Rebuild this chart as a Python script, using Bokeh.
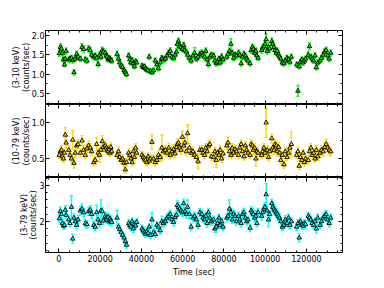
import numpy as np
from bokeh.plotting import figure
from bokeh.layouts import column
from bokeh.models import (ColumnDataSource, Whisker, TeeHead, Range1d, LinearAxis,
                          SingleIntervalTicker, FixedTicker, BasicTickFormatter,
                          NumeralTickFormatter)
from bokeh.embed import file_html
from bokeh.resources import INLINE

# ---------------- data ----------------
time_sec = [
    200, 700, 1200, 1700, 2200, 2700, 3100, 3500,
    4800, 5400, 6100, 6700, 7300, 7900, 8600, 9300,
    10400, 11200, 12000, 12800, 13600, 14400, 15200, 15900,
    16900, 17600, 18300, 19000, 19700, 20400, 21000, 21500,
    22500, 23000, 23400, 23900, 24400, 24800, 25200, 25600,
    28200, 28900, 29500, 30200, 30900, 31600, 32200, 32800,
    33800, 34400, 34900, 35500, 36100, 36600, 37200, 37700,
    40300, 40900, 41500, 42000, 42600, 43200, 43800, 44400,
    45100, 45900, 46700, 47500, 48300, 49100, 49900, 50600,
    51600, 52400, 53200, 54000, 54800, 55600, 56300, 57000,
    57400, 58000, 58600, 59200, 59900, 60500, 61100, 61800,
    62400, 63300, 64100, 65000, 65800, 66700, 67500, 68300,
    69300, 69900, 70600, 71200, 71900, 72500, 73200, 73900,
    75000, 75600, 76300, 76900, 77600, 78200, 78900, 79600,
    81400, 82000, 82700, 83400, 84000, 84700, 85400, 86100,
    87100, 87700, 88400, 89000, 89700, 90400, 91000, 91700,
    92700, 93200, 93800, 94300, 94900, 95500, 96000, 96600,
    98300, 98800, 99400, 99900, 100500, 101000, 101600, 102200,
    103200, 103700, 104300, 104800, 105400, 105900, 106500, 107000,
    107600, 108300, 109100, 109800, 110600, 111300, 112000, 112700,
    115300, 115900, 116500, 117100, 117800, 118400, 119000, 119600,
    120900, 121500, 122200, 122800, 123500, 124200, 124800, 125500,
    126600, 127300, 128100, 128800, 129600, 130300, 131100, 131800,
]

rate_3_10 = [
    1.54, 1.70, 1.66, 1.55, 1.38, 1.25, 1.40, 1.60,
    1.38, 1.40, 1.42, 1.36, 1.05, 1.40, 1.52, 1.45,
    1.40, 1.70, 1.65, 1.38, 1.35, 1.66, 1.62, 1.50,
    1.45, 1.48, 1.42, 1.26, 1.50, 1.45, 1.62, 1.58,
    1.55, 1.48, 1.45, 1.38, 1.42, 1.40, 1.36, 1.35,
    1.52, 1.40, 1.30, 1.22, 1.18, 1.10, 1.05, 1.00,
    1.48, 1.38, 1.30, 1.36, 1.28, 1.20, 1.33, 1.30,
    1.22, 1.18, 1.20, 1.15, 1.12, 1.10, 1.45, 1.08,
    1.05, 1.10, 1.35, 1.25, 1.15, 1.30, 1.42, 1.38,
    1.40, 1.48, 1.55, 1.60, 1.45, 1.42, 1.50, 1.58,
    1.78, 1.85, 1.72, 1.70, 1.65, 1.75, 1.62, 1.58,
    1.50, 1.42, 1.35, 1.48, 1.55, 1.40, 1.45, 1.52,
    1.55, 1.50, 1.45, 1.60, 1.38, 1.26, 1.45, 1.50,
    1.48, 1.35, 1.28, 1.32, 1.40, 1.30, 1.45, 1.38,
    1.45, 1.52, 1.60, 1.78, 1.55, 1.42, 1.50, 1.48,
    1.55, 1.50, 1.28, 1.45, 1.52, 1.48, 1.40, 1.35,
    1.28, 1.62, 1.70, 1.65, 1.55, 1.60, 1.48, 1.42,
    1.62, 1.68, 1.72, 1.78, 1.90, 1.60, 1.70, 1.66,
    1.85, 1.78, 1.70, 1.62, 1.55, 1.60, 1.50, 1.45,
    1.40, 1.30, 1.28, 1.35, 1.42, 1.38, 1.32, 1.45,
    1.25, 0.57, 1.20, 1.32, 1.38, 1.30, 1.35, 1.40,
    1.50, 1.72, 1.45, 1.40, 1.35, 1.48, 1.18, 1.30,
    1.35, 1.42, 1.50, 1.58, 1.62, 1.48, 1.40, 1.55,
]
err_3_10 = [
    0.08, 0.09, 0.08, 0.07, 0.07, 0.06, 0.07, 0.08,
    0.07, 0.07, 0.07, 0.07, 0.07, 0.07, 0.08, 0.07,
    0.07, 0.09, 0.08, 0.07, 0.07, 0.08, 0.08, 0.07,
    0.08, 0.07, 0.07, 0.07, 0.08, 0.07, 0.08, 0.08,
    0.07, 0.07, 0.07, 0.06, 0.07, 0.07, 0.06, 0.07,
    0.08, 0.07, 0.07, 0.06, 0.06, 0.06, 0.06, 0.06,
    0.07, 0.07, 0.06, 0.07, 0.06, 0.06, 0.07, 0.06,
    0.06, 0.06, 0.06, 0.06, 0.06, 0.06, 0.07, 0.06,
    0.06, 0.06, 0.07, 0.10, 0.06, 0.09, 0.07, 0.07,
    0.07, 0.07, 0.08, 0.08, 0.07, 0.07, 0.08, 0.08,
    0.08, 0.08, 0.08, 0.07, 0.07, 0.08, 0.07, 0.07,
    0.08, 0.07, 0.07, 0.07, 0.14, 0.07, 0.07, 0.08,
    0.08, 0.07, 0.07, 0.08, 0.07, 0.07, 0.07, 0.07,
    0.07, 0.07, 0.07, 0.07, 0.07, 0.07, 0.08, 0.07,
    0.07, 0.08, 0.08, 0.14, 0.07, 0.07, 0.08, 0.07,
    0.08, 0.07, 0.07, 0.07, 0.08, 0.07, 0.07, 0.07,
    0.07, 0.08, 0.08, 0.08, 0.07, 0.08, 0.07, 0.07,
    0.08, 0.08, 0.08, 0.09, 0.15, 0.08, 0.12, 0.08,
    0.09, 0.08, 0.08, 0.08, 0.07, 0.08, 0.07, 0.07,
    0.07, 0.07, 0.07, 0.07, 0.07, 0.07, 0.07, 0.07,
    0.07, 0.14, 0.06, 0.07, 0.07, 0.07, 0.07, 0.07,
    0.08, 0.09, 0.07, 0.07, 0.07, 0.08, 0.07, 0.07,
    0.07, 0.07, 0.08, 0.08, 0.08, 0.07, 0.07, 0.08,
]

rate_10_79 = [
    0.55, 0.60, 0.62, 0.53, 0.50, 0.58, 0.83, 0.72,
    0.62, 0.55, 0.50, 0.76, 0.44, 0.58, 0.68, 0.70,
    0.58, 0.75, 0.62, 0.55, 0.64, 0.68, 0.65, 0.60,
    0.45, 0.48, 0.70, 0.58, 0.55, 0.62, 0.74, 0.66,
    0.68, 0.65, 0.62, 0.60, 0.63, 0.58, 0.66, 0.60,
    0.55, 0.60, 0.52, 0.48, 0.50, 0.44, 0.35, 0.45,
    0.58, 0.55, 0.50, 0.45, 0.60, 0.52, 0.65, 0.58,
    0.55, 0.52, 0.50, 0.48, 0.45, 0.53, 0.47, 0.50,
    0.73, 0.50, 0.45, 0.48, 0.55, 0.52, 0.65, 0.60,
    0.62, 0.58, 0.65, 0.55, 0.60, 0.63, 0.57, 0.66,
    0.70, 0.72, 0.65, 0.62, 0.80, 0.68, 0.72, 0.60,
    0.85, 0.65, 0.58, 0.60, 0.55, 0.52, 0.46, 0.62,
    0.62, 0.58, 0.55, 0.65, 0.60, 0.68, 0.70, 0.53,
    0.52, 0.60, 0.48, 0.58, 0.55, 0.62, 0.50, 0.57,
    0.68, 0.72, 0.60, 0.55, 0.65, 0.58, 0.63, 0.60,
    0.55, 0.65, 0.70, 0.60, 0.53, 0.68, 0.62, 0.58,
    0.55, 0.70, 0.68, 0.62, 0.65, 0.50, 0.60, 0.58,
    0.55, 0.60, 0.65, 0.58, 1.00, 0.62, 0.52, 0.60,
    0.78, 0.65, 0.62, 0.70, 0.68, 0.60, 0.66, 0.58,
    0.48, 0.55, 0.42, 0.60, 0.52, 0.58, 0.65, 0.70,
    0.55, 0.60, 0.40, 0.52, 0.48, 0.58, 0.45, 0.50,
    0.48, 0.60, 0.65, 0.55, 0.58, 0.50, 0.62, 0.53,
    0.58, 0.62, 0.60, 0.66, 0.70, 0.65, 0.62, 0.60,
]
err_10_79 = [
    0.05, 0.06, 0.06, 0.05, 0.05, 0.06, 0.10, 0.08,
    0.06, 0.05, 0.05, 0.13, 0.07, 0.06, 0.06, 0.06,
    0.06, 0.07, 0.06, 0.05, 0.06, 0.06, 0.06, 0.06,
    0.05, 0.05, 0.09, 0.06, 0.10, 0.06, 0.08, 0.06,
    0.06, 0.06, 0.06, 0.05, 0.06, 0.05, 0.06, 0.05,
    0.05, 0.06, 0.05, 0.05, 0.05, 0.05, 0.05, 0.05,
    0.06, 0.05, 0.05, 0.05, 0.06, 0.05, 0.06, 0.05,
    0.05, 0.05, 0.05, 0.05, 0.05, 0.05, 0.05, 0.05,
    0.10, 0.05, 0.05, 0.05, 0.06, 0.05, 0.18, 0.06,
    0.06, 0.05, 0.06, 0.05, 0.06, 0.06, 0.05, 0.06,
    0.07, 0.06, 0.06, 0.06, 0.08, 0.06, 0.06, 0.06,
    0.12, 0.06, 0.05, 0.06, 0.05, 0.05, 0.10, 0.06,
    0.06, 0.05, 0.05, 0.06, 0.06, 0.06, 0.06, 0.05,
    0.05, 0.06, 0.10, 0.05, 0.05, 0.06, 0.05, 0.05,
    0.06, 0.08, 0.06, 0.05, 0.06, 0.05, 0.06, 0.05,
    0.05, 0.06, 0.06, 0.06, 0.05, 0.06, 0.06, 0.05,
    0.05, 0.06, 0.06, 0.06, 0.06, 0.10, 0.06, 0.05,
    0.05, 0.06, 0.06, 0.05, 0.20, 0.06, 0.05, 0.06,
    0.06, 0.06, 0.06, 0.06, 0.06, 0.06, 0.06, 0.05,
    0.05, 0.05, 0.05, 0.06, 0.05, 0.06, 0.06, 0.17,
    0.05, 0.06, 0.05, 0.05, 0.05, 0.05, 0.05, 0.05,
    0.05, 0.06, 0.06, 0.05, 0.06, 0.05, 0.06, 0.05,
    0.06, 0.06, 0.06, 0.06, 0.07, 0.06, 0.06, 0.06,
]

rate_3_79 = [
    2.08, 2.28, 2.20, 1.95, 1.88, 1.90, 2.32, 2.18,
    2.05, 1.95, 2.40, 1.52, 2.10, 2.00, 1.90, 2.05,
    2.30, 2.35, 2.25, 1.95, 1.92, 2.28, 2.32, 2.20,
    1.90, 1.85, 2.25, 2.05, 1.95, 2.30, 2.28, 2.02,
    2.15, 2.10, 2.05, 2.12, 2.00, 2.08, 2.02, 1.98,
    2.10, 1.85, 1.78, 1.70, 1.62, 1.55, 1.45, 1.35,
    1.95, 1.90, 1.85, 2.00, 1.80, 1.92, 1.88, 1.98,
    1.80, 1.75, 1.70, 1.65, 1.72, 1.68, 1.85, 1.62,
    2.05, 1.70, 1.65, 1.90, 1.85, 1.75, 2.00, 1.95,
    2.00, 2.10, 2.15, 2.20, 2.05, 1.98, 2.12, 2.18,
    2.45, 2.40, 2.35, 2.30, 2.25, 2.50, 2.28, 2.20,
    2.40, 2.20, 1.85, 2.10, 2.15, 2.05, 1.90, 2.25,
    2.20, 2.10, 2.05, 2.15, 1.95, 2.25, 2.10, 2.00,
    2.05, 1.80, 1.85, 1.95, 2.10, 1.90, 2.00, 1.85,
    2.10, 2.15, 2.35, 2.25, 2.05, 2.20, 2.15, 2.00,
    2.15, 2.05, 1.95, 2.20, 2.25, 2.10, 2.00, 2.05,
    1.82, 2.30, 2.25, 2.20, 2.10, 2.15, 1.95, 2.25,
    2.15, 2.25, 2.35, 2.40, 2.75, 2.30, 2.05, 2.20,
    2.50, 2.40, 2.35, 2.30, 2.25, 2.20, 2.15, 2.10,
    2.00, 1.85, 1.90, 2.05, 1.95, 2.10, 1.90, 2.00,
    1.85, 1.95, 1.55, 2.00, 1.90, 1.88, 1.95, 1.92,
    2.15, 2.10, 2.05, 1.95, 1.90, 2.00, 1.80, 2.10,
    1.90, 2.00, 2.10, 2.15, 2.20, 2.05, 1.95, 2.10,
]
err_3_79 = [
    0.11, 0.12, 0.11, 0.10, 0.10, 0.10, 0.12, 0.11,
    0.10, 0.10, 0.32, 0.12, 0.11, 0.10, 0.10, 0.11,
    0.12, 0.13, 0.11, 0.10, 0.10, 0.11, 0.12, 0.11,
    0.10, 0.10, 0.20, 0.11, 0.10, 0.30, 0.11, 0.10,
    0.11, 0.11, 0.10, 0.11, 0.10, 0.10, 0.10, 0.10,
    0.20, 0.10, 0.10, 0.09, 0.09, 0.09, 0.09, 0.09,
    0.10, 0.10, 0.10, 0.10, 0.10, 0.10, 0.10, 0.10,
    0.10, 0.09, 0.09, 0.09, 0.09, 0.09, 0.10, 0.09,
    0.20, 0.09, 0.09, 0.10, 0.10, 0.09, 0.15, 0.10,
    0.10, 0.11, 0.11, 0.11, 0.10, 0.10, 0.11, 0.11,
    0.12, 0.12, 0.11, 0.11, 0.11, 0.12, 0.11, 0.11,
    0.20, 0.11, 0.10, 0.11, 0.11, 0.10, 0.10, 0.11,
    0.11, 0.11, 0.10, 0.11, 0.10, 0.11, 0.11, 0.10,
    0.10, 0.10, 0.15, 0.10, 0.11, 0.10, 0.10, 0.10,
    0.11, 0.11, 0.25, 0.11, 0.10, 0.11, 0.11, 0.10,
    0.11, 0.10, 0.10, 0.11, 0.11, 0.11, 0.10, 0.10,
    0.10, 0.11, 0.11, 0.11, 0.11, 0.15, 0.10, 0.11,
    0.11, 0.11, 0.12, 0.12, 0.30, 0.12, 0.20, 0.11,
    0.12, 0.12, 0.12, 0.11, 0.11, 0.11, 0.11, 0.11,
    0.10, 0.10, 0.10, 0.11, 0.10, 0.11, 0.10, 0.10,
    0.10, 0.10, 0.12, 0.10, 0.10, 0.10, 0.10, 0.10,
    0.11, 0.11, 0.10, 0.10, 0.10, 0.10, 0.12, 0.11,
    0.10, 0.10, 0.11, 0.11, 0.11, 0.10, 0.10, 0.11,
]

panel_labels = ["(3-10 keV)\n(counts/sec)", "(10-79 keV)\n(counts/sec)", "(3-79 keV)\n(counts/sec)"]
panel_colors = ["#00ff00", "#ffd700", "#00ffff"]
x_label = "Time (sec)"

# ---------------- styling helpers ----------------
FONT = "DejaVu Sans"
FRAME_W = 297
X_RANGE = (-6500, 137500)
X_MAJOR, X_MINOR = 20000, 5000


def tick_sets(lo, hi, major, minor):
    allt = np.arange(np.floor(lo / minor) * minor, hi + minor * 0.5, minor)
    allt = [round(float(v), 6) for v in allt if lo <= v <= hi]
    maj = [v for v in allt if abs(v / major - round(v / major)) < 1e-6]
    mnr = [v for v in allt if v not in maj]
    return maj, mnr


def base_style(ax):
    ax.axis_line_color = "black"
    ax.axis_line_width = 1
    ax.major_tick_out = 0
    ax.minor_tick_out = 0
    ax.major_tick_in = 4
    ax.minor_tick_in = 2
    ax.major_tick_line_color = "black"
    ax.minor_tick_line_color = "black"
    ax.major_label_text_font = FONT
    ax.major_label_text_font_size = "8px"
    ax.major_label_text_color = "black"
    ax.major_label_standoff = 1
    ax.axis_label_text_font = FONT
    ax.axis_label_text_font_size = "8px"
    ax.axis_label_text_font_style = "normal"
    ax.axis_label_text_color = "black"
    ax.axis_label_text_line_height = 1.05
    ax.axis_label_standoff = -2


def add_bare_ticks(p, side, lo, hi, major, minor):
    """Axis with inward ticks but no labels (majors drawn as long 'minor' ticks)."""
    maj, mnr = tick_sets(lo, hi, major, minor)
    for positions, length in ((maj, 4), (mnr, 2)):
        ax = LinearAxis(ticker=FixedTicker(ticks=[], minor_ticks=positions))
        base_style(ax)
        ax.minor_tick_in = length
        ax.major_label_standoff = 0
        ax.axis_label_standoff = 0
        ax.axis_line_color = "black" if length == 4 else None
        p.add_layout(ax, side)


def make_panel(rate, err, color, ylabel, yr, yint, yminor, yfmt, frame_h, top, bottom_labels):
    src = ColumnDataSource(data=dict(t=time_sec, r=rate,
                                     lo=[a - b for a, b in zip(rate, err)],
                                     hi=[a + b for a, b in zip(rate, err)]))
    p = figure(frame_width=FRAME_W, frame_height=frame_h, output_backend="svg",
               toolbar_location=None, x_axis_location=None, y_axis_location=None,
               x_range=Range1d(*X_RANGE), y_range=Range1d(*yr),
               min_border_left=45, min_border_right=8,
               min_border_top=top, min_border_bottom=(28 if bottom_labels else 0))
    p.grid.visible = False
    p.outline_line_color = "black"
    p.background_fill_color = "white"
    p.border_fill_color = "white"

    left = LinearAxis(ticker=SingleIntervalTicker(interval=yint, num_minor_ticks=yminor),
                      formatter=yfmt, axis_label=ylabel)
    base_style(left)
    p.add_layout(left, "left")

    add_bare_ticks(p, "right", yr[0], yr[1], yint, yint / yminor)
    add_bare_ticks(p, "above", X_RANGE[0], X_RANGE[1], X_MAJOR, X_MINOR)
    if bottom_labels:
        below = LinearAxis(ticker=SingleIntervalTicker(interval=X_MAJOR,
                                                       num_minor_ticks=X_MAJOR // X_MINOR),
                           formatter=BasicTickFormatter(use_scientific=False),
                           axis_label=x_label)
        base_style(below)
        below.major_label_standoff = 2
        below.axis_label_standoff = 3
        p.add_layout(below, "below")
    else:
        add_bare_ticks(p, "below", X_RANGE[0], X_RANGE[1], X_MAJOR, X_MINOR)

    w = Whisker(base="t", lower="lo", upper="hi", source=src, line_color=color, line_width=1.5,
                upper_head=TeeHead(size=3, line_color=color, line_width=1.3),
                lower_head=TeeHead(size=3, line_color=color, line_width=1.3))
    p.add_layout(w)
    p.scatter("t", "r", source=src, marker="triangle", size=4.5, fill_color=color,
              line_color="black", line_width=0.9)
    return p


p1 = make_panel(rate_3_10, err_3_10, panel_colors[0], panel_labels[0],
                (0.22, 2.13), 0.5, 2, NumeralTickFormatter(format="0.0"), 74, 30, False)
p2 = make_panel(rate_10_79, err_10_79, panel_colors[1], panel_labels[1],
                (0.24, 1.25), 0.5, 2, NumeralTickFormatter(format="0.0"), 73, 0, False)
p3 = make_panel(rate_3_79, err_3_79, panel_colors[2], panel_labels[2],
                (1.14, 3.22), 1, 5, BasicTickFormatter(), 75, 0, True)

layout = column(p1, p2, p3, spacing=0)
open("out.html", "w").write(file_html(layout, INLINE))
